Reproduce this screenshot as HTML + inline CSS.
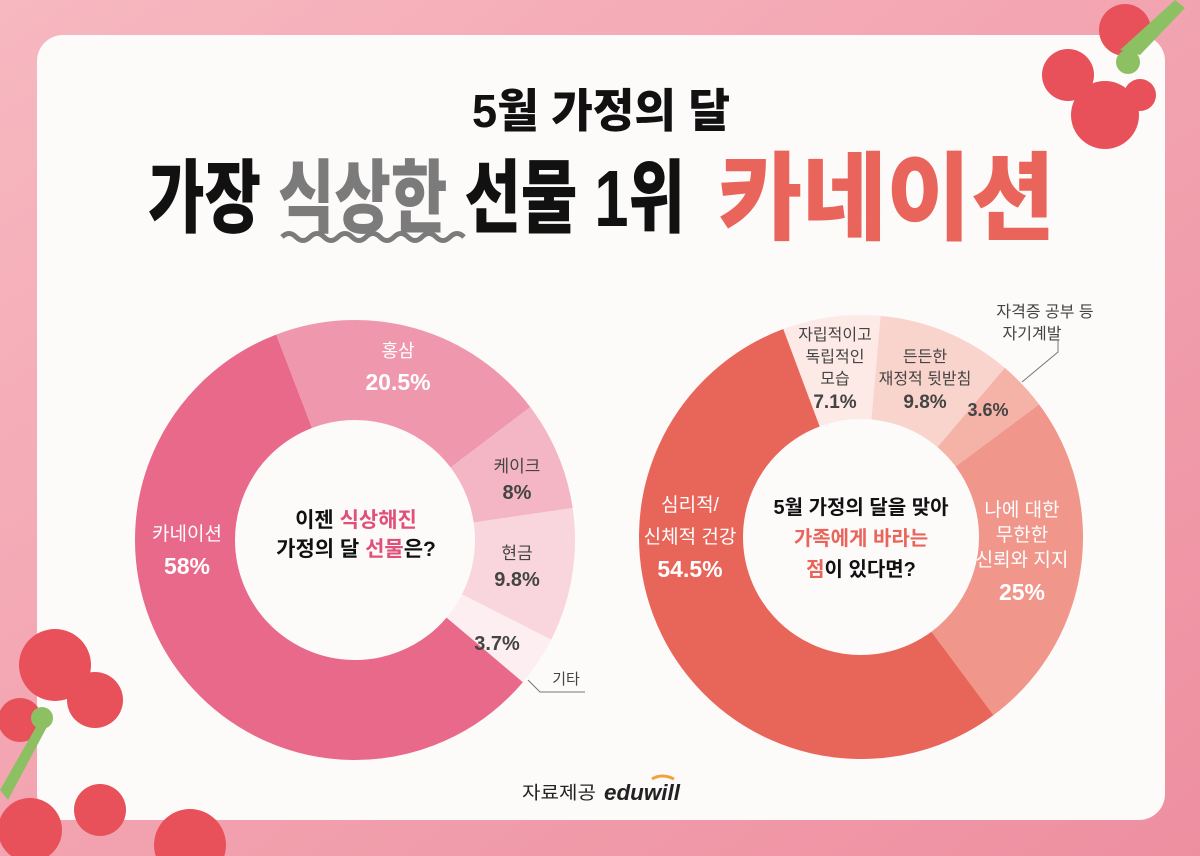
<!DOCTYPE html>
<html><head><meta charset="utf-8"><style>
html,body{margin:0;padding:0;width:1200px;height:856px;overflow:hidden}
text{font-family:"Liberation Sans","Noto Sans CJK KR",sans-serif}
</style></head><body>
<svg width="1200" height="856" viewBox="0 0 1200 856" xmlns="http://www.w3.org/2000/svg">
<defs>
<linearGradient id="bg" x1="0" y1="0" x2="1" y2="1"><stop offset="0" stop-color="#f7b8c0"/><stop offset="1" stop-color="#ee8fa0"/></linearGradient>
</defs>
<rect width="1200" height="856" fill="url(#bg)"/>
<rect x="37" y="35" width="1128" height="785" rx="26" fill="#fdfafa"/>
<!-- flowers -->
<g fill="#e8505a">
<circle cx="1125" cy="30" r="26"/><circle cx="1068" cy="75" r="26"/><circle cx="1105" cy="115" r="34"/><circle cx="1140" cy="95" r="16"/>
<circle cx="55" cy="665" r="36"/><circle cx="95" cy="700" r="28"/><circle cx="20" cy="720" r="22"/>
<circle cx="100" cy="810" r="26"/><circle cx="30" cy="830" r="32"/><circle cx="190" cy="845" r="36"/>
</g>
<g fill="#8cc063"><path d="M1120 50 L1175 0 L1185 8 L1140 55 Z"/><circle cx="1128" cy="62" r="12"/><path d="M0 790 L40 720 L48 725 L8 800Z"/><circle cx="42" cy="718" r="11"/></g>
<!-- titles -->
<text x="601" y="127" text-anchor="middle" font-size="46" font-weight="900" fill="#111" textLength="258" lengthAdjust="spacingAndGlyphs">5월 가정의 달</text>
<text x="148" y="226" font-size="80" font-weight="900" fill="#111" textLength="537" lengthAdjust="spacingAndGlyphs">가장 <tspan fill="#7b7b7b">식상한</tspan> 선물 1위</text>
<text x="718" y="232" font-size="96" font-weight="900" fill="#e9655b" textLength="337" lengthAdjust="spacingAndGlyphs">카네이션</text>
<path d="M282 237 q7 -7 14 0 t14 0 t14 0 t14 0 t14 0 t14 0 t14 0 t14 0 t14 0 t14 0 t14 0 t14 0 t14 0" fill="none" stroke="#7b7b7b" stroke-width="5"/>
<!-- left donut -->
<g transform="translate(355,540) rotate(-111)" fill="none" stroke-width="100">
<circle r="170" stroke="#ef98ad" stroke-dasharray="218.97 2000" stroke-dashoffset="0"/>
<circle r="170" stroke="#f4b6c4" stroke-dasharray="85.45 2000" stroke-dashoffset="-218.97"/>
<circle r="170" stroke="#f9d6de" stroke-dasharray="104.68 2000" stroke-dashoffset="-304.42"/>
<circle r="170" stroke="#fdeef1" stroke-dasharray="39.52 2000" stroke-dashoffset="-409.10"/>
<circle r="170" stroke="#e8698a" stroke-dasharray="619.52 2000" stroke-dashoffset="-448.62"/>
</g>
<g text-anchor="middle" font-weight="bold">
<text x="398" y="357" font-size="18" font-weight="normal" fill="#fff">홍삼</text>
<text x="398" y="390" font-size="23" fill="#fff">20.5%</text>
<text x="517" y="472" font-size="17" font-weight="normal" fill="#444">케이크</text>
<text x="517" y="499" font-size="20" fill="#444">8%</text>
<text x="517" y="559" font-size="17" font-weight="normal" fill="#444">현금</text>
<text x="517" y="586" font-size="20" fill="#444">9.8%</text>
<text x="497" y="650" font-size="20" fill="#444">3.7%</text>
<text x="566" y="684" font-size="15" font-weight="normal" fill="#444">기타</text>
<text x="187" y="540" font-size="19" font-weight="normal" fill="#fff">카네이션</text>
<text x="187" y="574" font-size="23" fill="#fff">58%</text>
<text x="356" y="527" font-size="21" fill="#111">이젠 <tspan fill="#e0507a">식상해진</tspan></text>
<text x="356" y="556" font-size="21" fill="#111">가정의 달 <tspan fill="#e0507a">선물</tspan>은?</text>
</g>
<path d="M528 680 L540 692 L585 692" fill="none" stroke="#777" stroke-width="1"/>
<!-- right donut -->
<g transform="translate(861,537) rotate(-110.5)" fill="none" stroke-width="104">
<circle r="170" stroke="#fdeae6" stroke-dasharray="75.84 2000" stroke-dashoffset="0"/>
<circle r="170" stroke="#f9d4cc" stroke-dasharray="104.68 2000" stroke-dashoffset="-75.84"/>
<circle r="170" stroke="#f5b3a8" stroke-dasharray="38.45 2000" stroke-dashoffset="-180.52"/>
<circle r="170" stroke="#f0968a" stroke-dasharray="267.04 2000" stroke-dashoffset="-218.97"/>
<circle r="170" stroke="#e8655a" stroke-dasharray="582.14 2000" stroke-dashoffset="-486.01"/>
</g>
<g text-anchor="middle" font-weight="bold">
<text x="835" y="340" font-size="16" font-weight="normal" fill="#444">자립적이고</text>
<text x="835" y="362" font-size="16" font-weight="normal" fill="#444">독립적인</text>
<text x="835" y="384" font-size="16" font-weight="normal" fill="#444">모습</text>
<text x="835" y="408" font-size="19" fill="#444">7.1%</text>
<text x="925" y="362" font-size="16" font-weight="normal" fill="#444">든든한</text>
<text x="925" y="384" font-size="16" font-weight="normal" fill="#444">재정적 뒷받침</text>
<text x="925" y="408" font-size="19" fill="#444">9.8%</text>
<text x="988" y="416" font-size="18" fill="#444">3.6%</text>
<text x="1045" y="317" font-size="16" font-weight="normal" fill="#444">자격증 공부 등</text>
<text x="1032" y="339" font-size="16" font-weight="normal" fill="#444">자기계발</text>
<text x="1022" y="516" font-size="19" font-weight="normal" fill="#fff">나에 대한</text>
<text x="1022" y="541" font-size="19" font-weight="normal" fill="#fff">무한한</text>
<text x="1022" y="566" font-size="19" font-weight="normal" fill="#fff">신뢰와 지지</text>
<text x="1022" y="600" font-size="23" fill="#fff">25%</text>
<text x="690" y="511" font-size="19" font-weight="normal" fill="#fff">심리적/</text>
<text x="690" y="543" font-size="19" font-weight="normal" fill="#fff">신체적 건강</text>
<text x="690" y="577" font-size="23" fill="#fff">54.5%</text>
<text x="861" y="514" font-size="20" fill="#111">5월 가정의 달을 맞아</text>
<text x="861" y="545" font-size="20" fill="#e9655b">가족에게 바라는</text>
<text x="861" y="576" font-size="20" fill="#111"><tspan fill="#e9655b">점</tspan>이 있다면?</text>
</g>
<path d="M1058 340 L1058 352 L1022 382" fill="none" stroke="#777" stroke-width="1"/>
<!-- footer -->
<text x="522" y="799" font-size="18" fill="#222" textLength="74" lengthAdjust="spacingAndGlyphs">자료제공</text>
<text x="604" y="800" font-size="22" font-weight="bold" font-style="italic" fill="#222" textLength="76" lengthAdjust="spacingAndGlyphs">eduwill</text>
<path d="M652 779 q10 -6 22 0" fill="none" stroke="#f2a23a" stroke-width="3"/>
</svg>
</body></html>
